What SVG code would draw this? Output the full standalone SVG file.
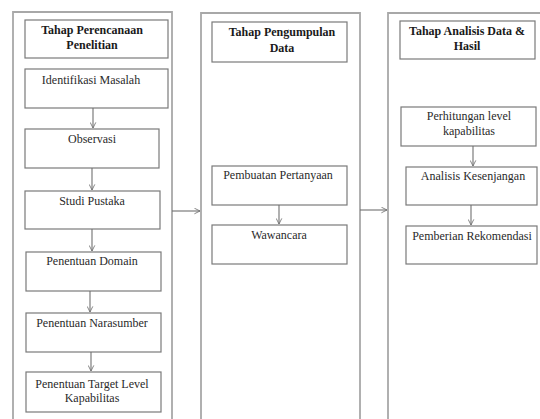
<svg xmlns="http://www.w3.org/2000/svg" width="540" height="419" viewBox="0 0 540 419">
<defs>
<marker id="arr" viewBox="0 0 10 10" refX="9" refY="5" markerWidth="7" markerHeight="7" orient="auto" markerUnits="userSpaceOnUse">
<path d="M1,1 L9,5 L1,9" fill="none" stroke="#707070" stroke-width="1.2"/>
</marker>
<style>
.outer{fill:#fff;stroke:#a8a8a8;stroke-width:1.8}
.box{fill:#fff;stroke:#7a7a7a;stroke-width:1.2}
.t{font-size:12px;fill:#2a2a2a;text-anchor:middle}
.b{font-weight:bold;fill:#1a1a1a}
.c{stroke:#707070;stroke-width:1.1;fill:none;marker-end:url(#arr)}
</style>
</defs>
<rect width="540" height="419" fill="#fff"/>
<g id="stage1">
<path class="outer" d="M13,425 V12 H172 V425"/>
</g>
<g id="stage2">
<path class="outer" d="M201,425 V13 H360 V425"/>
</g>
<g id="stage3">
<path class="outer" d="M388,425 V13 H545 V425"/>
</g>
<g font-family="'Liberation Serif', 'Times New Roman', serif">
<g id="title1"><rect class="box" x="25" y="20" width="143" height="38"/><text class="t b" x="92" y="34">Tahap Perencanaan</text><text class="t b" x="92" y="49">Penelitian</text></g>
<g id="n-identifikasi"><rect class="box" x="25" y="69" width="143" height="39"/><text class="t" x="91" y="84">Identifikasi Masalah</text></g>
<g id="n-observasi"><rect class="box" x="25" y="129" width="134" height="39"/><text class="t" x="92" y="143">Observasi</text></g>
<g id="n-studi"><rect class="box" x="25" y="191" width="135" height="38"/><text class="t" x="92" y="205">Studi Pustaka</text></g>
<g id="n-domain"><rect class="box" x="26" y="252" width="135" height="39"/><text class="t" x="92" y="265">Penentuan Domain</text></g>
<g id="n-narasumber"><rect class="box" x="26" y="313" width="135" height="39"/><text class="t" x="92" y="327">Penentuan Narasumber</text></g>
<g id="n-target"><rect class="box" x="26" y="372" width="135" height="40"/><text class="t" x="92" y="388">Penentuan Target Level</text><text class="t" x="92" y="402">Kapabilitas</text></g>
<g id="title2"><rect class="box" x="212" y="22" width="135" height="40"/><text class="t b" x="282" y="36">Tahap Pengumpulan</text><text class="t b" x="282" y="52">Data</text></g>
<g id="n-pembuatan"><rect class="box" x="212" y="166" width="135" height="39"/><text class="t" x="278" y="179">Pembuatan Pertanyaan</text></g>
<g id="n-wawancara"><rect class="box" x="212" y="225" width="135" height="39"/><text class="t" x="279" y="239">Wawancara</text></g>
<g id="title3"><rect class="box" x="400" y="21" width="135" height="38"/><text class="t b" x="467" y="35">Tahap Analisis Data &amp;</text><text class="t b" x="467" y="50">Hasil</text></g>
<g id="n-perhitungan"><rect class="box" x="401" y="107" width="135" height="39"/><text class="t" x="469" y="120">Perhitungan level</text><text class="t" x="469" y="135">kapabilitas</text></g>
<g id="n-analisis"><rect class="box" x="406" y="167" width="131" height="38"/><text class="t" x="473" y="180">Analisis Kesenjangan</text></g>
<g id="n-pemberian"><rect class="box" x="406" y="226" width="131" height="38"/><text class="t" x="472" y="240">Pemberian Rekomendasi</text></g>
</g>
<g id="connectors">
<line class="c" x1="93" y1="108" x2="93" y2="128"/>
<line class="c" x1="92" y1="168" x2="92" y2="190"/>
<line class="c" x1="92" y1="229" x2="92" y2="251"/>
<line class="c" x1="90" y1="291" x2="90" y2="312"/>
<line class="c" x1="91" y1="352" x2="91" y2="371"/>
<line class="c" x1="172" y1="211" x2="200" y2="211"/>
<line class="c" x1="279" y1="205" x2="279" y2="224"/>
<line class="c" x1="360" y1="210" x2="387" y2="210"/>
<line class="c" x1="473" y1="146" x2="473" y2="166"/>
<line class="c" x1="471" y1="205" x2="471" y2="225"/>
</g>
</svg>
